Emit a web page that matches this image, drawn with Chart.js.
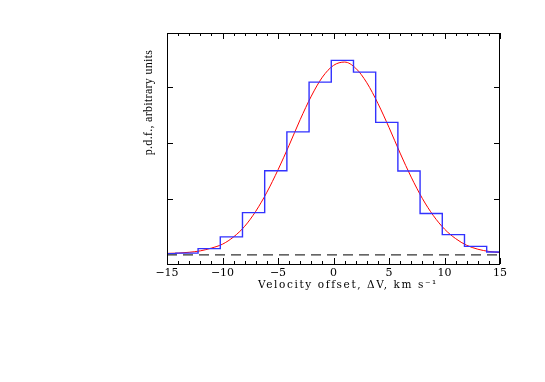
<!DOCTYPE html>
<html>
<head>
<meta charset="utf-8">
<script src="https://cdn.jsdelivr.net/npm/chart.js@4.4.1/dist/chart.umd.min.js"></script>
<style>
  html, body { margin: 0; padding: 0; background: #fff; }
  #wrap { width: 545px; height: 382px; }
</style>
</head>
<body>
<div id="wrap"><canvas id="chart-pdf" width="545" height="382"></canvas></div>
<script>
// histogram: left bin edges (km/s) and heights (arbitrary units), bin width 2
const binLeft = [-16.2, -14.2, -12.2, -10.2, -8.2, -6.2, -4.2, -2.2, -0.2, 1.8, 3.8, 5.8, 7.8, 9.8, 11.8, 13.8];
const binHeight = [0.02, 0.03, 0.11, 0.32, 0.755, 1.505, 2.2, 3.09, 3.48, 3.27, 2.37, 1.5, 0.74, 0.36, 0.15, 0.05];
const binWidth = 2;

// fitted curve
const curveX = [-15, -14, -13, -12, -11, -10, -9, -8, -7, -6, -5, -4, -3, -2, -1, 0, 1, 2, 3, 4, 5, 6, 7, 8, 9, 10, 11, 12, 13, 14, 15];
const curveY = [0.025, 0.03, 0.045, 0.07, 0.12, 0.19, 0.32, 0.51, 0.78, 1.12, 1.52, 1.96, 2.42, 2.84, 3.18, 3.39, 3.45, 3.34, 3.08, 2.71, 2.28, 1.82, 1.39, 1.01, 0.70, 0.46, 0.29, 0.17, 0.10, 0.06, 0.04];

const xMajor = [-15, -10, -5, 0, 5, 10, 15];
const xMinor = [-14, -13, -12, -11, -9, -8, -7, -6, -4, -3, -2, -1, 1, 2, 3, 4, 6, 7, 8, 9, 11, 12, 13, 14];
const yMajor = [1, 2, 3];

const xTitle = 'Velocity offset, \u0394V, km s\u207B\u00B9';
const yTitle = 'p.d.f., arbitrary units';

// each bin drawn as a flat step from its left edge to the next one
const histPoints = binLeft.map((x, i) => ({ x, y: binHeight[i] }));
histPoints.push({ x: binLeft[binLeft.length - 1] + binWidth, y: binHeight[binHeight.length - 1] });
const curvePoints = curveX.map((x, i) => ({ x, y: curveY[i] }));

// frame, inward ticks and axis titles
const framePlugin = {
    id: 'frame',
    afterDatasetsDraw(chart) {
        const { ctx, chartArea: a, scales: { x, y } } = chart;
        ctx.save();
        ctx.strokeStyle = '#000';
        ctx.lineWidth = 1;
        ctx.strokeRect(Math.round(a.left) + 0.5, Math.round(a.top) + 0.5,
            Math.round(a.right - a.left) - 1, Math.round(a.bottom - a.top));
        ctx.beginPath();
        const tickX = (v, len) => {
            const px = Math.round(x.getPixelForValue(v)) + 0.5;
            ctx.moveTo(px, a.bottom); ctx.lineTo(px, a.bottom - len);
            ctx.moveTo(px, a.top); ctx.lineTo(px, a.top + len);
        };
        xMajor.forEach(v => tickX(v, 6));
        xMinor.forEach(v => tickX(v, 3));
        yMajor.forEach(v => {
            const py = Math.round(y.getPixelForValue(v)) + 0.5;
            ctx.moveTo(a.left, py); ctx.lineTo(a.left + 6, py);
            ctx.moveTo(a.right, py); ctx.lineTo(a.right - 6, py);
        });
        ctx.stroke();
        ctx.restore();
    },
    afterDraw(chart) {
        const { ctx } = chart;
        ctx.save();
        ctx.fillStyle = '#000';
        ctx.textAlign = 'center';
        ctx.textBaseline = 'middle';
        ctx.font = '10.5px "DejaVu Serif"';
        ctx.letterSpacing = '1.6px';
        ctx.fillText(xTitle, 348, 285);
        ctx.letterSpacing = '0.3px';
        ctx.font = '12px "Liberation Serif"';
        ctx.translate(149, 102.5);
        ctx.rotate(-Math.PI / 2);
        ctx.fillText(yTitle, 0, 0);
        ctx.restore();
    },
};

function createPdfChart() {
    const canvas = document.getElementById('chart-pdf');
    if (!canvas) return;
    try {
        new Chart(canvas.getContext('2d'), {
            type: 'line',
            data: {
                datasets: [
                    {
                        label: 'zero',
                        data: [{ x: -15, y: 0 }, { x: 15, y: 0 }],
                        borderColor: '#333',
                        borderWidth: 1.2,
                        borderDash: [10, 6],
                        pointRadius: 0,
                    },
                    {
                        label: 'histogram',
                        data: histPoints,
                        borderColor: 'rgb(50,50,255)',
                        borderWidth: 1.4,
                        stepped: 'before',
                        pointRadius: 0,
                    },
                    {
                        label: 'fit',
                        data: curvePoints,
                        borderColor: '#ff0000',
                        borderWidth: 1,
                        cubicInterpolationMode: 'monotone',
                        pointRadius: 0,
                    },
                ],
            },
            plugins: [framePlugin],
            options: {
                responsive: false,
                animation: false,
                layout: { padding: { top: 33, right: 45, bottom: 90, left: 0 } },
                plugins: { legend: { display: false }, tooltip: { enabled: false } },
                scales: {
                    x: {
                        type: 'linear',
                        min: -15,
                        max: 15,
                        afterFit: s => { s.height = 28; },
                        grid: { display: false, drawTicks: false },
                        border: { display: false },
                        ticks: {
                            stepSize: 5,
                            padding: 3,
                            color: '#000',
                            font: { family: 'DejaVu Serif', size: 11 },
                            callback: v => String(v).replace('-', '\u2212'),
                        },
                    },
                    y: {
                        type: 'linear',
                        min: -0.165,
                        max: 3.97,
                        afterFit: s => { s.width = 167; },
                        grid: { display: false, drawTicks: false },
                        border: { display: false },
                        ticks: { display: false },
                    },
                },
            },
        });
    } catch (err) {
        console.error('[PDF-CHART] FAILED:', err);
    }
}

createPdfChart();
</script>
</body>
</html>
